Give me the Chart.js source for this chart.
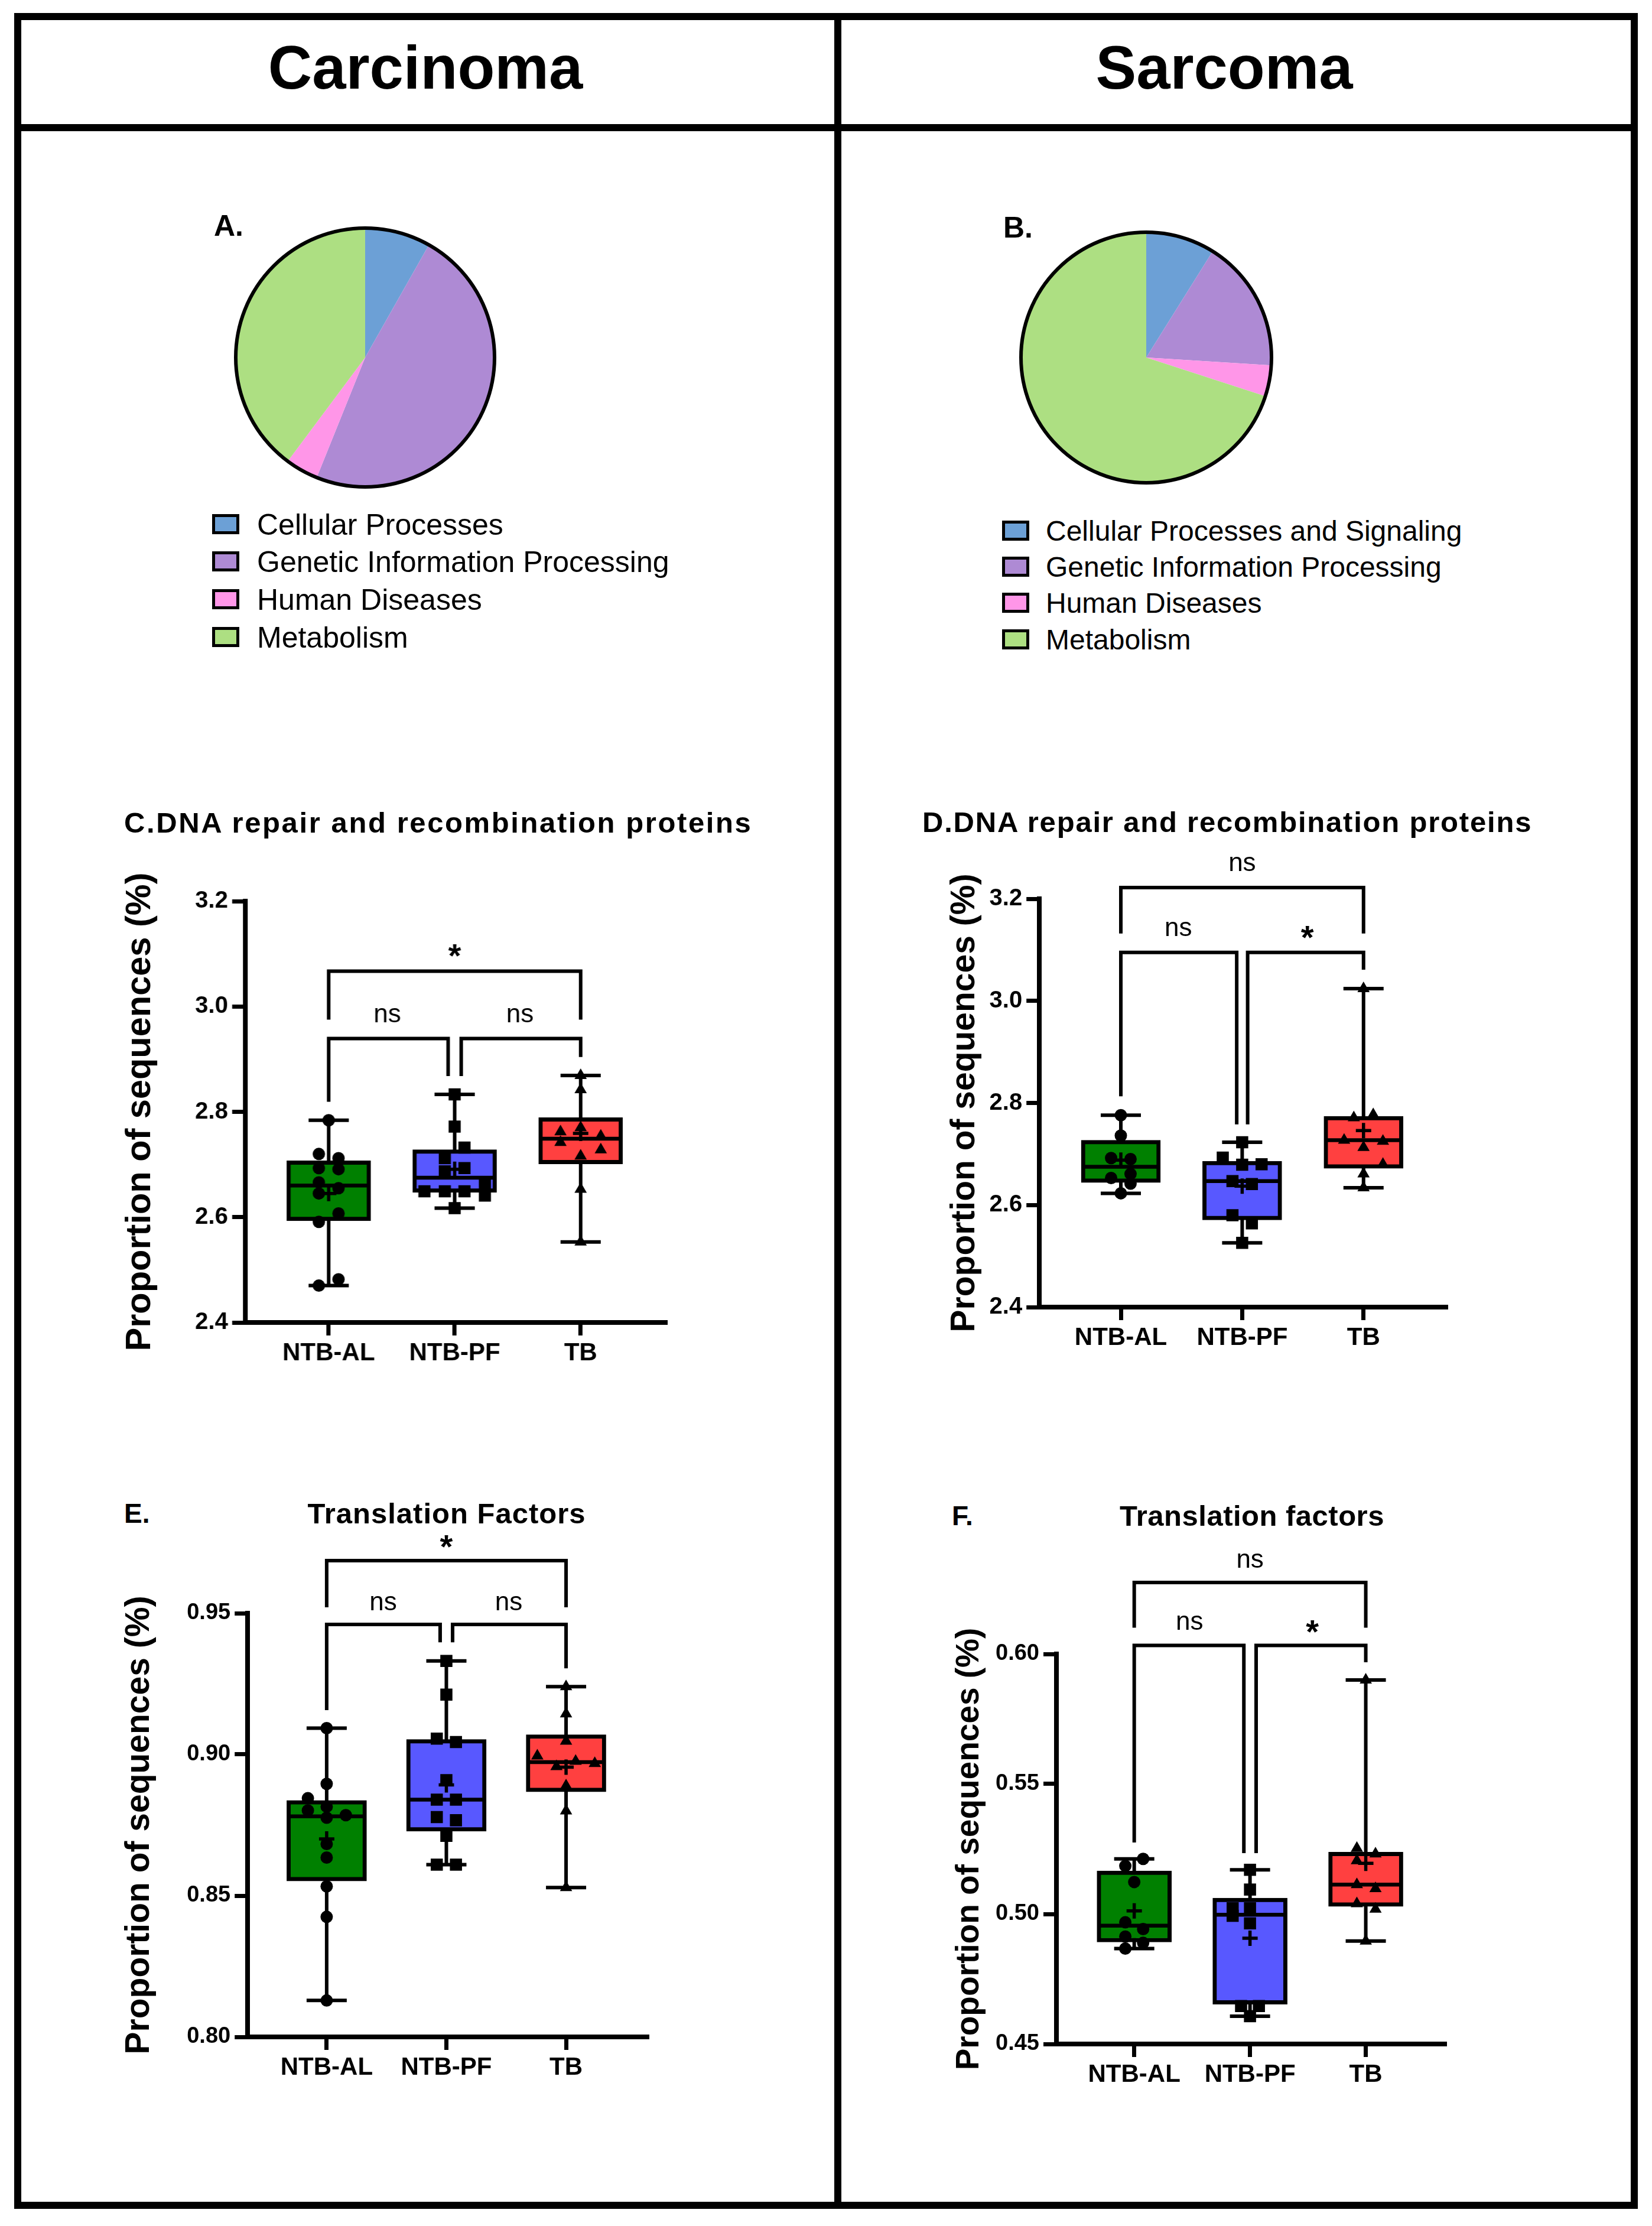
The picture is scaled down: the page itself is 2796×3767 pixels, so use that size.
<!DOCTYPE html>
<html>
<head>
<meta charset="utf-8">
<title>Carcinoma vs Sarcoma</title>
<script src="https://cdn.jsdelivr.net/npm/chart.js@4.4.1/dist/chart.umd.min.js"></script>
<style>
  html, body { margin: 0; padding: 0; background: #fff; }
  body { position: relative; width: 2796px; height: 3767px; overflow: hidden;
         font-family: "Liberation Sans", Arial, sans-serif; color: #000; }
  .a { position: absolute; line-height: 1; white-space: nowrap; }
  .b { font-weight: bold; }
  .mid { transform: translateX(-50%); }
  canvas { position: absolute; }
  .key { position: absolute; box-sizing: border-box; border: 5px solid #000; width: 46px; height: 34px; }
</style>
</head>
<body>
<!-- frame -->
<div style="position:absolute;left:24px;top:22px;width:2748px;height:3716px;border:12px solid #000;box-sizing:border-box"></div>
<div style="position:absolute;left:24px;top:210px;width:2748px;height:12px;background:#000"></div>
<div style="position:absolute;left:1412px;top:22px;width:12px;height:3716px;background:#000"></div>

<div class="a b mid" style="left:720px;top:63px;font-size:103px">Carcinoma</div>
<div class="a b mid" style="left:2072px;top:63px;font-size:103px">Sarcoma</div>

<div class="a b" style="left:362px;top:357px;font-size:50px">A.</div>
<div class="a b" style="left:1698px;top:360px;font-size:50px">B.</div>

<div class="a b" style="left:210px;top:1368px;font-size:49px;letter-spacing:2.6px">C.DNA repair and recombination proteins</div>
<div class="a b" style="left:1561px;top:1367px;font-size:49px;letter-spacing:1.8px">D.DNA repair and recombination proteins</div>

<div class="a b" style="left:210px;top:2538px;font-size:46px">E.</div>
<div class="a b mid" style="left:756px;top:2537px;font-size:49px;letter-spacing:1px">Translation Factors</div>
<div class="a b" style="left:1611px;top:2542px;font-size:46px">F.</div>
<div class="a b mid" style="left:2119px;top:2541px;font-size:49px;letter-spacing:0.5px">Translation factors</div>

<canvas id="pieA"></canvas>
<canvas id="pieB"></canvas>
<canvas id="chartC"></canvas>
<canvas id="chartD"></canvas>
<canvas id="chartE"></canvas>
<canvas id="chartF"></canvas>

<script>
// ---- pies (share of sequences by KEGG level 1) ----
const pieLabelsA = ['Cellular Processes', 'Genetic Information Processing', 'Human Diseases', 'Metabolism'];
const pieLabelsB = ['Cellular Processes and Signaling', 'Genetic Information Processing', 'Human Diseases', 'Metabolism'];
const pieValuesA = [8.2, 47.9, 4.1, 39.8];
const pieValuesB = [8.9, 17.1, 4.0, 70.0];
const pieColors = ['#6ca0d6', '#ae8ad4', '#ff96e8', '#addf82'];

const groups = ['NTB-AL', 'NTB-PF', 'TB'];

// ---- C. carcinoma, DNA repair and recombination proteins ----
const cAL = [2.784, 2.720, 2.712, 2.693, 2.691, 2.666, 2.655, 2.645, 2.607, 2.591, 2.482, 2.470];
const cPF = [2.833, 2.772, 2.732, 2.712, 2.687, 2.693, 2.661, 2.641, 2.649, 2.649, 2.649, 2.617];
const cTB = [2.869, 2.842, 2.770, 2.762, 2.754, 2.742, 2.728, 2.716, 2.653, 2.553];
const cALx = [0, -0.078, 0.078, -0.078, 0.078, -0.078, 0.078, -0.078, 0.078, -0.078, 0.078, -0.078];
const cPFx = [0, 0, 0.078, -0.078, -0.078, 0.078, 0.24, 0.24, -0.24, -0.078, 0.078, 0];
const cTBx = [0, 0, 0, -0.16, 0.16, -0.16, 0.16, 0, 0, 0];
const cLow = [2.470, 2.617, 2.553];
const cQ1 = [2.593, 2.647, 2.701];
const cMed = [2.660, 2.675, 2.749];
const cQ3 = [2.707, 2.728, 2.789];
const cHigh = [2.784, 2.833, 2.869];
const cMean = [2.645, 2.691, 2.759];
const cLegs = [2.819, 2.868, 2.904];
const cBrLow = 2.939, cBrTop = 3.067, cBrTopLeg = 2.975;
const cSig = ['ns', 'ns', '*'];
const cSigX = [1.465, 2.518, 2.0];
const cSigY = [2.983, 2.983, 3.106];

// ---- D. sarcoma, DNA repair and recombination proteins ----
const dAL = [2.776, 2.736, 2.692, 2.690, 2.661, 2.653, 2.642, 2.623];
const dPF = [2.723, 2.693, 2.679, 2.680, 2.647, 2.641, 2.580, 2.564, 2.526];
const dTB = [3.024, 2.777, 2.771, 2.727, 2.725, 2.713, 2.680, 2.661, 2.634];
const dALx = [0, 0, -0.08, 0.08, 0.08, -0.08, 0.08, 0];
const dPFx = [0, -0.16, 0, 0.16, -0.08, 0.08, -0.08, 0.08, 0];
const dTBx = [0, 0.08, -0.08, -0.16, 0.16, 0, 0.16, 0, 0];
const dLow = [2.623, 2.526, 2.634];
const dQ1 = [2.644, 2.571, 2.672];
const dMed = [2.675, 2.647, 2.727];
const dQ3 = [2.727, 2.686, 2.774];
const dHigh = [2.776, 2.723, 3.024];
const dMean = [2.688, 2.637, 2.746];
const dLegs = [2.813, 2.758, 3.061];
const dBrLow = 3.095, dBrTop = 3.222, dBrTopLeg = 3.132;
const dSig = ['ns', '*', 'ns'];
const dSigX = [1.473, 2.537, 2.0];
const dSigY = [3.141, 3.135, 3.268];

// ---- E. carcinoma, translation factors ----
const eAL = [0.9093, 0.8896, 0.8845, 0.8802, 0.8815, 0.8776, 0.8785, 0.8683, 0.8635, 0.8533, 0.8425, 0.8129];
const ePF = [0.9331, 0.9212, 0.9056, 0.9044, 0.8909, 0.8840, 0.8840, 0.8778, 0.8767, 0.8712, 0.8610, 0.8610];
const eTB = [0.9240, 0.9144, 0.9047, 0.8995, 0.8976, 0.8968, 0.8957, 0.8889, 0.8800, 0.8529];
const eALx = [0, 0, -0.157, -0.157, 0, 0, 0.16, 0, 0, 0, 0, 0];
const ePFx = [0, 0, -0.08, 0.08, 0, -0.08, 0.08, -0.08, 0.08, 0, -0.08, 0.08];
const eTBx = [0, 0, 0, -0.24, 0.08, 0.24, -0.08, 0, 0, 0];
const eLow = [0.8129, 0.8610, 0.8529];
const eQ1 = [0.8552, 0.8728, 0.8868];
const eMed = [0.8781, 0.8840, 0.8973];
const eQ3 = [0.8837, 0.9053, 0.9070];
const eHigh = [0.9093, 0.9331, 0.9240];
const eMean = [0.8701, 0.8892, 0.8955];
const eLegs = [0.9157, 0.9397, 0.9305];
const eBrLow = 0.946, eBrTop = 0.9686, eBrTopLeg = 0.9521;
const eSig = ['ns', 'ns', '*'];
const eSigX = [1.472, 2.521, 2.0];
const eSigY = [0.9535, 0.9535, 0.9754];

// ---- F. sarcoma, translation factors ----
const fAL = [0.5212, 0.5185, 0.5123, 0.4968, 0.4942, 0.4913, 0.4889, 0.4867];
const fPF = [0.5170, 0.5094, 0.5022, 0.5022, 0.4993, 0.4964, 0.4646, 0.4646, 0.4607];
const fTB = [0.5900, 0.5253, 0.5231, 0.5205, 0.5113, 0.5098, 0.5040, 0.5019, 0.4896];
const fALx = [0.077, -0.077, 0, -0.077, 0.077, -0.077, 0.077, -0.077];
const fPFx = [0, 0, -0.15, 0, -0.15, 0, -0.077, 0.077, 0];
const fTBx = [0, -0.077, 0.084, -0.077, -0.077, 0.084, -0.077, 0.084, 0];
const fLow = [0.4867, 0.4607, 0.4896];
const fQ1 = [0.4892, 0.4653, 0.5029];
const fMed = [0.4955, 0.4997, 0.5113];
const fQ3 = [0.5166, 0.5061, 0.5238];
const fHigh = [0.5212, 0.5170, 0.5900];
const fMean = [0.5012, 0.4907, 0.5195];
const fLegs = [0.5275, 0.5234, 0.5968];
const fBrLow = 0.6033, fBrTop = 0.6275, fBrTopLeg = 0.6101;
const fSig = ['ns', '*', 'ns'];
const fSigX = [1.478, 2.539, 2.0];
const fSigY = [0.612, 0.6105, 0.6358];

const FONT = '"Liberation Sans", Arial, sans-serif';
Chart.defaults.font.family = FONT;
Chart.defaults.color = '#000';

const boxFills = ['#008000', '#5858ff', '#ff4040'];
const markers = ['circle', 'rect', 'triangle'];
const markerR = [10.5, 14.5, 12];

function place(canvas, left, top, w, h) {
  canvas.width = w;
  canvas.height = h;
  Object.assign(canvas.style, { left: left + 'px', top: top + 'px', width: w + 'px', height: h + 'px' });
}

// draws the 'ns' / '*' marks over the brackets
function sigLabels(texts, xs, ys) {
  return {
    id: 'sig',
    afterDraw(chart) {
      const { ctx } = chart;
      const sx = chart.scales.x, sy = chart.scales.y;
      ctx.save();
      ctx.fillStyle = '#000';
      ctx.textAlign = 'center';
      ctx.textBaseline = 'alphabetic';
      texts.forEach((t, i) => {
        ctx.font = t === '*' ? 'bold 56px ' + FONT : '44px ' + FONT;
        const m = ctx.measureText(t);
        const px = sx.getPixelForValue(xs[i]);
        const py = sy.getPixelForValue(ys[i]) + (m.actualBoundingBoxAscent - m.actualBoundingBoxDescent) / 2;
        ctx.fillText(t, px, py);
      });
      ctx.restore();
    }
  };
}

function boxPanel(id, g, d) {
  const canvas = document.getElementById(id);
  const left = g.titleX - g.titleSize * 0.6;
  const top = g.plotTop - 200;
  const w = g.axisRight + 30 - left;
  const h = g.plotBottom + 100 - top;
  place(canvas, left, top, w, h);

  const sets = [];
  d.points.forEach((vals, k) => sets.push({
    type: 'scatter', order: 0,
    data: vals.map((v, i) => ({ x: k + 1 + d.jitter[k][i], y: v })),
    pointStyle: markers[k], pointRadius: markerR[k], pointBorderWidth: 0,
    backgroundColor: '#000', borderColor: '#000'
  }));
  sets.push({
    type: 'scatter', order: 1,
    data: d.mean.map((v, k) => ({ x: k + 1, y: v })),
    pointStyle: 'cross', pointRadius: 13, pointBorderWidth: 5.5, borderColor: '#000'
  });
  sets.push({
    type: 'scatter', order: 2,
    data: d.med.map((v, k) => ({ x: k + 1, y: v })),
    pointStyle: 'line', pointRadius: g.boxW / 2 - 4, pointBorderWidth: 6.5, borderColor: '#000'
  });
  sets.push({
    type: 'bar', order: 3,
    data: d.q1.map((v, k) => ({ x: k + 1, y: [v, d.q3[k]] })),
    backgroundColor: boxFills, borderColor: '#000', borderWidth: 7, borderSkipped: false,
    barThickness: g.boxW
  });
  sets.push({
    type: 'scatter', order: 4,
    data: d.low.map((v, k) => ({ x: k + 1, y: v })).concat(d.high.map((v, k) => ({ x: k + 1, y: v }))),
    pointStyle: 'line', pointRadius: 34, pointBorderWidth: 6, borderColor: '#000'
  });
  const whisk = [];
  d.low.forEach((v, k) => whisk.push({ x: k + 1, y: v }, { x: k + 1, y: d.high[k] }, { x: k + 1, y: null }));
  sets.push({
    type: 'line', order: 5, data: whisk, borderColor: '#000', borderWidth: 6,
    pointRadius: 0, spanGaps: false
  });
  const L = d.legs, gp = d.gap;
  const br = [
    { x: 1, y: L[0] }, { x: 1, y: d.brLow }, { x: 2 - gp, y: d.brLow }, { x: 2 - gp, y: L[1] }, { x: 2, y: null },
    { x: 2 + gp, y: L[1] }, { x: 2 + gp, y: d.brLow }, { x: 3, y: d.brLow }, { x: 3, y: L[2] }, { x: 3, y: null },
    { x: 1, y: d.brTopLeg }, { x: 1, y: d.brTop }, { x: 3, y: d.brTop }, { x: 3, y: d.brTopLeg }
  ];
  sets.push({
    type: 'line', order: 6, data: br, borderColor: '#000', borderWidth: 6,
    pointRadius: 0, spanGaps: false, clip: false, borderJoinStyle: 'miter', borderCapStyle: 'butt'
  });

  new Chart(canvas, {
    type: 'bar',
    data: { datasets: sets },
    options: {
      responsive: false,
      animation: false,
      devicePixelRatio: 1,
      layout: { autoPadding: false, padding: { top: 200, right: 30, left: 0, bottom: 0 } },
      plugins: { legend: { display: false }, tooltip: { enabled: false } },
      scales: {
        x: {
          type: 'linear', min: g.xMin, max: g.xMax, offset: false,
          afterFit: s => { s.height = 100; },
          afterBuildTicks: s => { s.ticks = groups.map((_, k) => ({ value: k + 1 })); },
          ticks: {
            callback: v => groups[v - 1], font: { size: 42, weight: 'bold' }, color: '#000',
            padding: 5, autoSkip: false, maxRotation: 0
          },
          grid: { offset: false, drawOnChartArea: false, color: '#000', lineWidth: 7, tickLength: 22 },
          border: { color: '#000', width: 8 }
        },
        y: {
          min: g.yMin, max: g.yMax,
          afterFit: s => { s.width = g.axisX - left; },
          ticks: {
            stepSize: g.step, callback: v => v.toFixed(g.dec),
            font: { size: g.tickSize, weight: 'bold' }, color: '#000', padding: 7
          },
          grid: { drawOnChartArea: false, color: '#000', lineWidth: 7, tickLength: 22 },
          border: { color: '#000', width: 8 },
          title: {
            display: true, text: 'Proportion of sequences (%)',
            font: { size: g.titleSize, weight: 'bold' }, color: '#000', padding: 0
          }
        }
      }
    },
    plugins: [sigLabels(d.sig, d.sigX, d.sigY)]
  });
}

// black rim around the pie
const rimPlugin = {
  id: 'rim',
  afterDatasetsDraw(chart) {
    const arc = chart.getDatasetMeta(0).data[0];
    const ctx = chart.ctx;
    ctx.save();
    ctx.beginPath();
    ctx.arc(arc.x, arc.y, arc.outerRadius, 0, Math.PI * 2);
    ctx.lineWidth = 6;
    ctx.strokeStyle = '#000';
    ctx.stroke();
    ctx.restore();
  }
};

function pie(id, labels, values, cx, cy, r) {
  const c = document.getElementById(id);
  const pad = 10, size = 2 * (r + pad);
  place(c, cx - size / 2, cy - size / 2, size, size);
  new Chart(c, {
    type: 'pie',
    data: { labels: labels, datasets: [{ data: values, backgroundColor: pieColors, borderWidth: 0 }] },
    options: {
      responsive: false, animation: false, devicePixelRatio: 1,
      layout: { autoPadding: false, padding: pad },
      plugins: { legend: { display: false }, tooltip: { enabled: false } }
    },
    plugins: [rimPlugin]
  });
}

function legend(labels, keyX, textX, rows, size) {
  labels.forEach((t, i) => {
    const k = document.createElement('div');
    k.className = 'key';
    k.style.left = keyX + 'px';
    k.style.top = (rows[i] - 17) + 'px';
    k.style.background = pieColors[i];
    const s = document.createElement('div');
    s.className = 'a';
    s.textContent = t;
    s.style.left = textX + 'px';
    s.style.top = (rows[i] - 0.4885 * size) + 'px';
    s.style.fontSize = size + 'px';
    document.body.append(k, s);
  });
}

pie('pieA', pieLabelsA, pieValuesA, 618, 605, 219);
pie('pieB', pieLabelsB, pieValuesB, 1940, 605, 212);
legend(pieLabelsA, 359, 435, [887, 950, 1014, 1078], 50);
legend(pieLabelsB, 1696, 1770, [898, 959, 1020, 1082], 48);

boxPanel('chartC',
  { titleX: 238, titleSize: 59.5, axisX: 415, plotTop: 1525, plotBottom: 2238, axisRight: 1126,
    xMin: 0.337, xMax: 3.672, yMin: 2.4, yMax: 3.2, step: 0.2, dec: 1, tickSize: 40, boxW: 142 },
  { points: [cAL, cPF, cTB], jitter: [cALx, cPFx, cTBx], low: cLow, q1: cQ1, med: cMed, q3: cQ3,
    high: cHigh, mean: cMean, legs: cLegs, brLow: cBrLow, brTop: cBrTop, brTopLeg: cBrTopLeg, gap: 0.052,
    sig: cSig, sigX: cSigX, sigY: cSigY });

boxPanel('chartD',
  { titleX: 1633, titleSize: 57, axisX: 1759, plotTop: 1521, plotBottom: 2212, axisRight: 2447,
    xMin: 0.329, xMax: 3.678, yMin: 2.4, yMax: 3.2, step: 0.2, dec: 1, tickSize: 40, boxW: 134 },
  { points: [dAL, dPF, dTB], jitter: [dALx, dPFx, dTBx], low: dLow, q1: dQ1, med: dMed, q3: dQ3,
    high: dHigh, mean: dMean, legs: dLegs, brLow: dBrLow, brTop: dBrTop, brTopLeg: dBrTopLeg, gap: 0.045,
    sig: dSig, sigX: dSigX, sigY: dSigY });

boxPanel('chartE',
  { titleX: 236, titleSize: 57, axisX: 419, plotTop: 2730, plotBottom: 3447, axisRight: 1095,
    xMin: 0.34, xMax: 3.676, yMin: 0.80, yMax: 0.95, step: 0.05, dec: 2, tickSize: 38, boxW: 135 },
  { points: [eAL, ePF, eTB], jitter: [eALx, ePFx, eTBx], low: eLow, q1: eQ1, med: eMed, q3: eQ3,
    high: eHigh, mean: eMean, legs: eLegs, brLow: eBrLow, brTop: eBrTop, brTopLeg: eBrTopLeg, gap: 0.052,
    sig: eSig, sigX: eSigX, sigY: eSigY });

boxPanel('chartF',
  { titleX: 1641, titleSize: 55, axisX: 1788, plotTop: 2799, plotBottom: 3459, axisRight: 2445,
    xMin: 0.328, xMax: 3.681, yMin: 0.45, yMax: 0.60, step: 0.05, dec: 2, tickSize: 38, boxW: 126 },
  { points: [fAL, fPF, fTB], jitter: [fALx, fPFx, fTBx], low: fLow, q1: fQ1, med: fMed, q3: fQ3,
    high: fHigh, mean: fMean, legs: fLegs, brLow: fBrLow, brTop: fBrTop, brTopLeg: fBrTopLeg, gap: 0.053,
    sig: fSig, sigX: fSigX, sigY: fSigY });
</script>
</body>
</html>
